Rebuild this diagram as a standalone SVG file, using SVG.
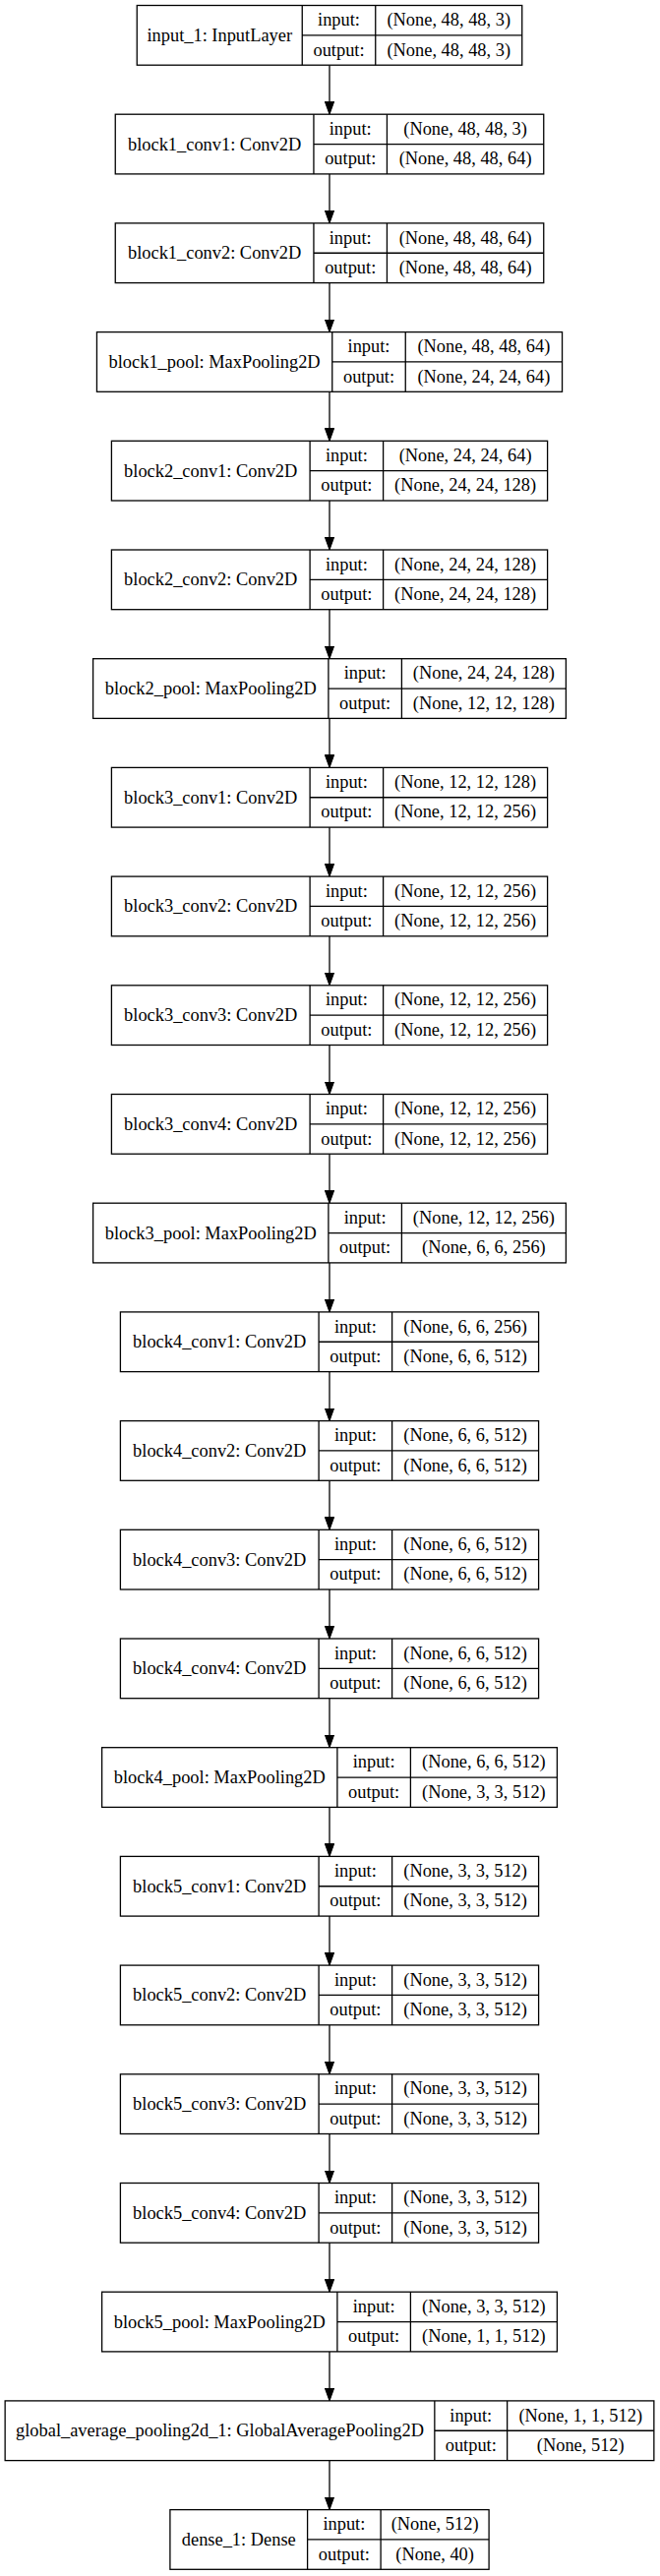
<svg xmlns="http://www.w3.org/2000/svg" width="671" height="2619" viewBox="0 0 671 2619">
<style>
.node rect{fill:#fff;stroke:#000;stroke-width:1.3}
.node path{fill:none;stroke:#000;stroke-width:1.3}
text{font-family:"Liberation Serif","Times New Roman",serif;font-size:18.4px;fill:#000;text-anchor:middle}
.edges line{stroke:#000;stroke-width:1.3;marker-end:url(#arr)}
</style>
<defs>
<marker id="arr" viewBox="0 -5 13 10" refX="13" refY="0" markerWidth="13" markerHeight="10" markerUnits="userSpaceOnUse" orient="auto"><path d="M0,-4.7L13,0L0,4.7z" fill="#000" stroke="#000" stroke-width="1"/></marker>
</defs>
<rect width="671" height="2619" fill="#fff"/>
<g class="edges">
<line x1="335" y1="66.2" x2="335" y2="116.2"/>
<line x1="335" y1="176.9" x2="335" y2="226.9"/>
<line x1="335" y1="287.6" x2="335" y2="337.6"/>
<line x1="335" y1="398.3" x2="335" y2="448.3"/>
<line x1="335" y1="509.0" x2="335" y2="559.0"/>
<line x1="335" y1="619.7" x2="335" y2="669.7"/>
<line x1="335" y1="730.4" x2="335" y2="780.4"/>
<line x1="335" y1="841.1" x2="335" y2="891.1"/>
<line x1="335" y1="951.8" x2="335" y2="1001.8"/>
<line x1="335" y1="1062.5" x2="335" y2="1112.5"/>
<line x1="335" y1="1173.2" x2="335" y2="1223.2"/>
<line x1="335" y1="1283.9" x2="335" y2="1333.9"/>
<line x1="335" y1="1394.6" x2="335" y2="1444.6"/>
<line x1="335" y1="1505.3" x2="335" y2="1555.3"/>
<line x1="335" y1="1616.0" x2="335" y2="1666.0"/>
<line x1="335" y1="1726.7" x2="335" y2="1776.7"/>
<line x1="335" y1="1837.4" x2="335" y2="1887.4"/>
<line x1="335" y1="1948.1" x2="335" y2="1998.1"/>
<line x1="335" y1="2058.8" x2="335" y2="2108.8"/>
<line x1="335" y1="2169.5" x2="335" y2="2219.5"/>
<line x1="335" y1="2280.2" x2="335" y2="2330.2"/>
<line x1="335" y1="2390.9" x2="335" y2="2440.9"/>
<line x1="335" y1="2501.6" x2="335" y2="2551.6"/>
</g>

<g id="input_1" class="node" transform="translate(139.25,5.5)"><rect width="391.5" height="60.7"/><path d="M168,0V60.7M242.5,0V60.7M168,30.35H391.5"/><text x="84" y="36.4">input_1: InputLayer</text><text x="205.25" y="20.7">input:</text><text x="205.25" y="51">output:</text><text x="317" y="20.7">(None, 48, 48, 3)</text><text x="317" y="51">(None, 48, 48, 3)</text></g>

<g id="block1_conv1" class="node" transform="translate(117.25,116.2)"><rect width="435.5" height="60.7"/><path d="M201.7,0V60.7M276.2,0V60.7M201.7,30.35H435.5"/><text x="100.85" y="36.4">block1_conv1: Conv2D</text><text x="238.95" y="20.7">input:</text><text x="238.95" y="51">output:</text><text x="355.85" y="20.7">(None, 48, 48, 3)</text><text x="355.85" y="51">(None, 48, 48, 64)</text></g>

<g id="block1_conv2" class="node" transform="translate(117.25,226.9)"><rect width="435.5" height="60.7"/><path d="M201.7,0V60.7M276.2,0V60.7M201.7,30.35H435.5"/><text x="100.85" y="36.4">block1_conv2: Conv2D</text><text x="238.95" y="20.7">input:</text><text x="238.95" y="51">output:</text><text x="355.85" y="20.7">(None, 48, 48, 64)</text><text x="355.85" y="51">(None, 48, 48, 64)</text></g>

<g id="block1_pool" class="node" transform="translate(98.45,337.6)"><rect width="473.1" height="60.7"/><path d="M239.3,0V60.7M313.8,0V60.7M239.3,30.35H473.1"/><text x="119.65" y="36.4">block1_pool: MaxPooling2D</text><text x="276.55" y="20.7">input:</text><text x="276.55" y="51">output:</text><text x="393.45" y="20.7">(None, 48, 48, 64)</text><text x="393.45" y="51">(None, 24, 24, 64)</text></g>

<g id="block2_conv1" class="node" transform="translate(113.4,448.3)"><rect width="443.2" height="60.7"/><path d="M201.7,0V60.7M276.2,0V60.7M201.7,30.35H443.2"/><text x="100.85" y="36.4">block2_conv1: Conv2D</text><text x="238.95" y="20.7">input:</text><text x="238.95" y="51">output:</text><text x="359.7" y="20.7">(None, 24, 24, 64)</text><text x="359.7" y="51">(None, 24, 24, 128)</text></g>

<g id="block2_conv2" class="node" transform="translate(113.4,559.0)"><rect width="443.2" height="60.7"/><path d="M201.7,0V60.7M276.2,0V60.7M201.7,30.35H443.2"/><text x="100.85" y="36.4">block2_conv2: Conv2D</text><text x="238.95" y="20.7">input:</text><text x="238.95" y="51">output:</text><text x="359.7" y="20.7">(None, 24, 24, 128)</text><text x="359.7" y="51">(None, 24, 24, 128)</text></g>

<g id="block2_pool" class="node" transform="translate(94.6,669.7)"><rect width="480.8" height="60.7"/><path d="M239.3,0V60.7M313.8,0V60.7M239.3,30.35H480.8"/><text x="119.65" y="36.4">block2_pool: MaxPooling2D</text><text x="276.55" y="20.7">input:</text><text x="276.55" y="51">output:</text><text x="397.3" y="20.7">(None, 24, 24, 128)</text><text x="397.3" y="51">(None, 12, 12, 128)</text></g>

<g id="block3_conv1" class="node" transform="translate(113.4,780.4)"><rect width="443.2" height="60.7"/><path d="M201.7,0V60.7M276.2,0V60.7M201.7,30.35H443.2"/><text x="100.85" y="36.4">block3_conv1: Conv2D</text><text x="238.95" y="20.7">input:</text><text x="238.95" y="51">output:</text><text x="359.7" y="20.7">(None, 12, 12, 128)</text><text x="359.7" y="51">(None, 12, 12, 256)</text></g>

<g id="block3_conv2" class="node" transform="translate(113.4,891.1)"><rect width="443.2" height="60.7"/><path d="M201.7,0V60.7M276.2,0V60.7M201.7,30.35H443.2"/><text x="100.85" y="36.4">block3_conv2: Conv2D</text><text x="238.95" y="20.7">input:</text><text x="238.95" y="51">output:</text><text x="359.7" y="20.7">(None, 12, 12, 256)</text><text x="359.7" y="51">(None, 12, 12, 256)</text></g>

<g id="block3_conv3" class="node" transform="translate(113.4,1001.8)"><rect width="443.2" height="60.7"/><path d="M201.7,0V60.7M276.2,0V60.7M201.7,30.35H443.2"/><text x="100.85" y="36.4">block3_conv3: Conv2D</text><text x="238.95" y="20.7">input:</text><text x="238.95" y="51">output:</text><text x="359.7" y="20.7">(None, 12, 12, 256)</text><text x="359.7" y="51">(None, 12, 12, 256)</text></g>

<g id="block3_conv4" class="node" transform="translate(113.4,1112.5)"><rect width="443.2" height="60.7"/><path d="M201.7,0V60.7M276.2,0V60.7M201.7,30.35H443.2"/><text x="100.85" y="36.4">block3_conv4: Conv2D</text><text x="238.95" y="20.7">input:</text><text x="238.95" y="51">output:</text><text x="359.7" y="20.7">(None, 12, 12, 256)</text><text x="359.7" y="51">(None, 12, 12, 256)</text></g>

<g id="block3_pool" class="node" transform="translate(94.6,1223.2)"><rect width="480.8" height="60.7"/><path d="M239.3,0V60.7M313.8,0V60.7M239.3,30.35H480.8"/><text x="119.65" y="36.4">block3_pool: MaxPooling2D</text><text x="276.55" y="20.7">input:</text><text x="276.55" y="51">output:</text><text x="397.3" y="20.7">(None, 12, 12, 256)</text><text x="397.3" y="51">(None, 6, 6, 256)</text></g>

<g id="block4_conv1" class="node" transform="translate(122.4,1333.9)"><rect width="425.2" height="60.7"/><path d="M201.7,0V60.7M276.2,0V60.7M201.7,30.35H425.2"/><text x="100.85" y="36.4">block4_conv1: Conv2D</text><text x="238.95" y="20.7">input:</text><text x="238.95" y="51">output:</text><text x="350.7" y="20.7">(None, 6, 6, 256)</text><text x="350.7" y="51">(None, 6, 6, 512)</text></g>

<g id="block4_conv2" class="node" transform="translate(122.4,1444.6)"><rect width="425.2" height="60.7"/><path d="M201.7,0V60.7M276.2,0V60.7M201.7,30.35H425.2"/><text x="100.85" y="36.4">block4_conv2: Conv2D</text><text x="238.95" y="20.7">input:</text><text x="238.95" y="51">output:</text><text x="350.7" y="20.7">(None, 6, 6, 512)</text><text x="350.7" y="51">(None, 6, 6, 512)</text></g>

<g id="block4_conv3" class="node" transform="translate(122.4,1555.3)"><rect width="425.2" height="60.7"/><path d="M201.7,0V60.7M276.2,0V60.7M201.7,30.35H425.2"/><text x="100.85" y="36.4">block4_conv3: Conv2D</text><text x="238.95" y="20.7">input:</text><text x="238.95" y="51">output:</text><text x="350.7" y="20.7">(None, 6, 6, 512)</text><text x="350.7" y="51">(None, 6, 6, 512)</text></g>

<g id="block4_conv4" class="node" transform="translate(122.4,1666.0)"><rect width="425.2" height="60.7"/><path d="M201.7,0V60.7M276.2,0V60.7M201.7,30.35H425.2"/><text x="100.85" y="36.4">block4_conv4: Conv2D</text><text x="238.95" y="20.7">input:</text><text x="238.95" y="51">output:</text><text x="350.7" y="20.7">(None, 6, 6, 512)</text><text x="350.7" y="51">(None, 6, 6, 512)</text></g>

<g id="block4_pool" class="node" transform="translate(103.6,1776.7)"><rect width="462.8" height="60.7"/><path d="M239.3,0V60.7M313.8,0V60.7M239.3,30.35H462.8"/><text x="119.65" y="36.4">block4_pool: MaxPooling2D</text><text x="276.55" y="20.7">input:</text><text x="276.55" y="51">output:</text><text x="388.3" y="20.7">(None, 6, 6, 512)</text><text x="388.3" y="51">(None, 3, 3, 512)</text></g>

<g id="block5_conv1" class="node" transform="translate(122.4,1887.4)"><rect width="425.2" height="60.7"/><path d="M201.7,0V60.7M276.2,0V60.7M201.7,30.35H425.2"/><text x="100.85" y="36.4">block5_conv1: Conv2D</text><text x="238.95" y="20.7">input:</text><text x="238.95" y="51">output:</text><text x="350.7" y="20.7">(None, 3, 3, 512)</text><text x="350.7" y="51">(None, 3, 3, 512)</text></g>

<g id="block5_conv2" class="node" transform="translate(122.4,1998.1)"><rect width="425.2" height="60.7"/><path d="M201.7,0V60.7M276.2,0V60.7M201.7,30.35H425.2"/><text x="100.85" y="36.4">block5_conv2: Conv2D</text><text x="238.95" y="20.7">input:</text><text x="238.95" y="51">output:</text><text x="350.7" y="20.7">(None, 3, 3, 512)</text><text x="350.7" y="51">(None, 3, 3, 512)</text></g>

<g id="block5_conv3" class="node" transform="translate(122.4,2108.8)"><rect width="425.2" height="60.7"/><path d="M201.7,0V60.7M276.2,0V60.7M201.7,30.35H425.2"/><text x="100.85" y="36.4">block5_conv3: Conv2D</text><text x="238.95" y="20.7">input:</text><text x="238.95" y="51">output:</text><text x="350.7" y="20.7">(None, 3, 3, 512)</text><text x="350.7" y="51">(None, 3, 3, 512)</text></g>

<g id="block5_conv4" class="node" transform="translate(122.4,2219.5)"><rect width="425.2" height="60.7"/><path d="M201.7,0V60.7M276.2,0V60.7M201.7,30.35H425.2"/><text x="100.85" y="36.4">block5_conv4: Conv2D</text><text x="238.95" y="20.7">input:</text><text x="238.95" y="51">output:</text><text x="350.7" y="20.7">(None, 3, 3, 512)</text><text x="350.7" y="51">(None, 3, 3, 512)</text></g>

<g id="block5_pool" class="node" transform="translate(103.6,2330.2)"><rect width="462.8" height="60.7"/><path d="M239.3,0V60.7M313.8,0V60.7M239.3,30.35H462.8"/><text x="119.65" y="36.4">block5_pool: MaxPooling2D</text><text x="276.55" y="20.7">input:</text><text x="276.55" y="51">output:</text><text x="388.3" y="20.7">(None, 3, 3, 512)</text><text x="388.3" y="51">(None, 1, 1, 512)</text></g>

<g id="global_average_pooling2d_1" class="node" transform="translate(5.15,2440.9)"><rect width="659.7" height="60.7"/><path d="M436.7,0V60.7M510.5,0V60.7M436.7,30.35H659.7"/><text x="218.35" y="36.4">global_average_pooling2d_1: GlobalAveragePooling2D</text><text x="473.6" y="20.7">input:</text><text x="473.6" y="51">output:</text><text x="585.1" y="20.7">(None, 1, 1, 512)</text><text x="585.1" y="51">(None, 512)</text></g>

<g id="dense_1" class="node" transform="translate(172.9,2551.6)"><rect width="324.2" height="60.7"/><path d="M139.7,0V60.7M214.2,0V60.7M139.7,30.35H324.2"/><text x="69.85" y="36.4">dense_1: Dense</text><text x="176.95" y="20.7">input:</text><text x="176.95" y="51">output:</text><text x="269.2" y="20.7">(None, 512)</text><text x="269.2" y="51">(None, 40)</text></g>
</svg>
